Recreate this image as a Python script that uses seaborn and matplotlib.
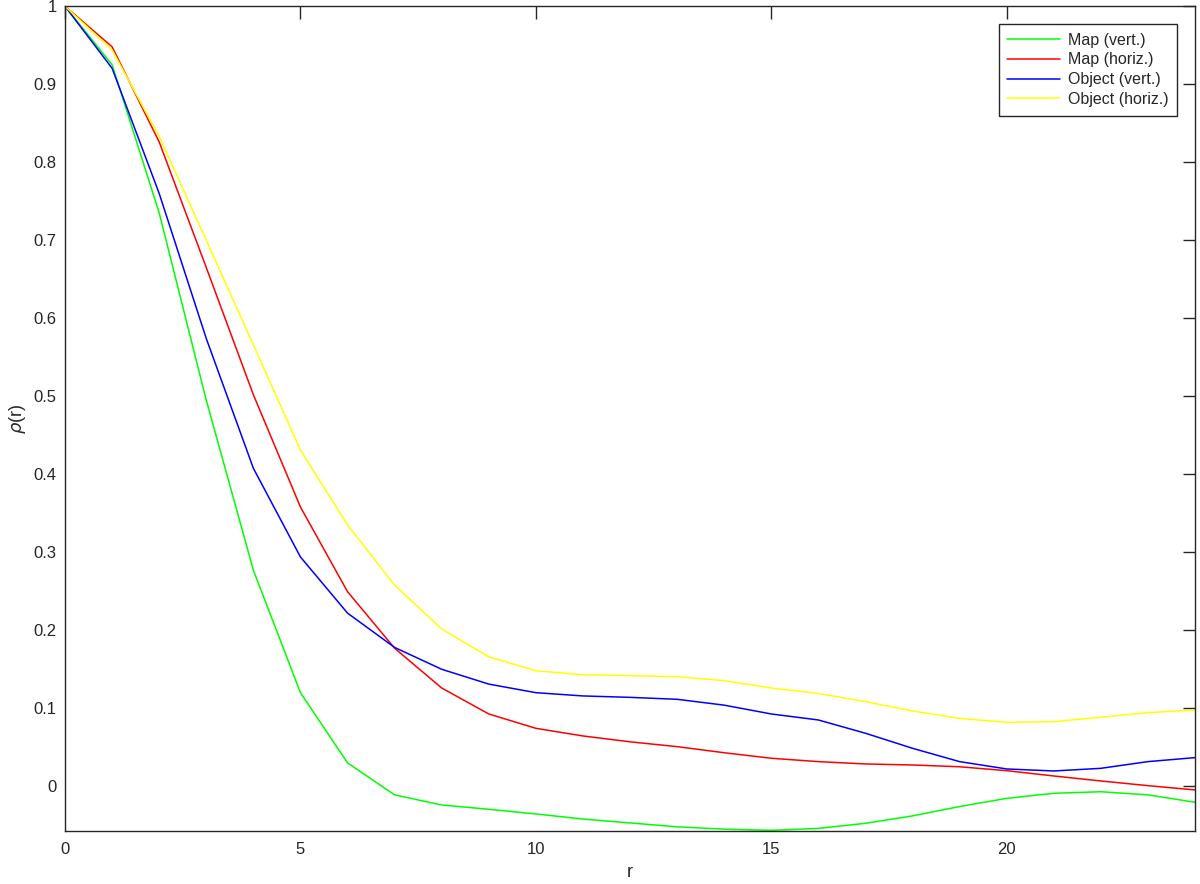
import pandas as pd
import matplotlib
matplotlib.use("Agg")
import matplotlib.pyplot as plt
import seaborn as sns

sns.set_style("white")
plt.rcParams["font.family"] = ["Liberation Sans", "DejaVu Sans"]

# =========================
# DATA
# =========================
r = list(range(25))

map_vert = [1.0, 0.925, 0.735, 0.495, 0.277, 0.120, 0.030, -0.011, -0.024, -0.0295,
            -0.0355, -0.042, -0.047, -0.052, -0.055, -0.0565, -0.054, -0.0475, -0.038,
            -0.026, -0.0155, -0.009, -0.007, -0.011, -0.0205]
map_horiz = [1.0, 0.948, 0.826, 0.665, 0.502, 0.358, 0.2495, 0.177, 0.126, 0.0927,
             0.0743, 0.0645, 0.057, 0.0508, 0.043, 0.0359, 0.0316, 0.0286, 0.0273,
             0.025, 0.020, 0.0132, 0.0068, 0.0008, -0.0047]
obj_vert = [1.0, 0.9205, 0.760, 0.574, 0.4077, 0.294, 0.222, 0.178, 0.150, 0.131,
            0.120, 0.1158, 0.114, 0.1115, 0.104, 0.0927, 0.085, 0.068, 0.0487,
            0.0316, 0.0222, 0.0196, 0.023, 0.0316, 0.0367]
obj_horiz = [1.0, 0.944, 0.833, 0.700, 0.566, 0.431, 0.335, 0.258, 0.2017, 0.166,
             0.148, 0.143, 0.1418, 0.1405, 0.1354, 0.126, 0.119, 0.1085, 0.0965,
             0.087, 0.082, 0.0828, 0.0885, 0.0944, 0.0978]

labels = ["Map (vert.)", "Map (horiz.)", "Object (vert.)", "Object (horiz.)"]
colors = ["#00ff00", "#ff0000", "#0000ff", "#ffff00"]

frames = []
for lab, vals in zip(labels, [map_vert, map_horiz, obj_vert, obj_horiz]):
    frames.append(pd.DataFrame({"r": r, "rho": vals, "series": lab}))
df = pd.concat(frames, ignore_index=True)

# =========================
# PLOT
# =========================
fig = plt.figure(figsize=(12, 8.84), dpi=100)
ax = fig.add_axes([0.0542, 0.060, 0.9416, 0.9329])

sns.lineplot(data=df, x="r", y="rho", hue="series", hue_order=labels,
             palette=dict(zip(labels, colors)), linewidth=1.1, ax=ax)

ax.set_xlim(0, 24)
ax.set_ylim(-0.0573, 1)
ax.set_xticks([0, 5, 10, 15, 20])
ax.set_yticks([0, 0.1, 0.2, 0.3, 0.4, 0.5, 0.6, 0.7, 0.8, 0.9, 1])
ax.set_yticklabels(["0", "0.1", "0.2", "0.3", "0.4", "0.5", "0.6", "0.7", "0.8", "0.9", "1"])
ax.set_xlabel("r", fontsize=13, labelpad=5, color="#262626")
ax.set_ylabel(r"$\rho$(r)", fontsize=13, labelpad=4, color="#262626")

for s in ax.spines.values():
    s.set_color("#262626")
    s.set_linewidth(1.0)
ax.tick_params(direction="in", length=9, width=1.0, top=True, right=True,
               labelsize=12, colors="#262626")
ax.tick_params(axis="x", pad=8)
ax.tick_params(axis="y", pad=6)

leg = ax.legend(loc="upper right", fontsize=11.5, frameon=True, fancybox=False,
                framealpha=1, edgecolor="#262626", borderaxespad=1.1,
                handlelength=3.3, handletextpad=0.5, labelspacing=0.3,
                borderpad=0.55)
leg.get_frame().set_linewidth(1.0)
leg.set_title(None)

plt.savefig("out.png", dpi=100)
